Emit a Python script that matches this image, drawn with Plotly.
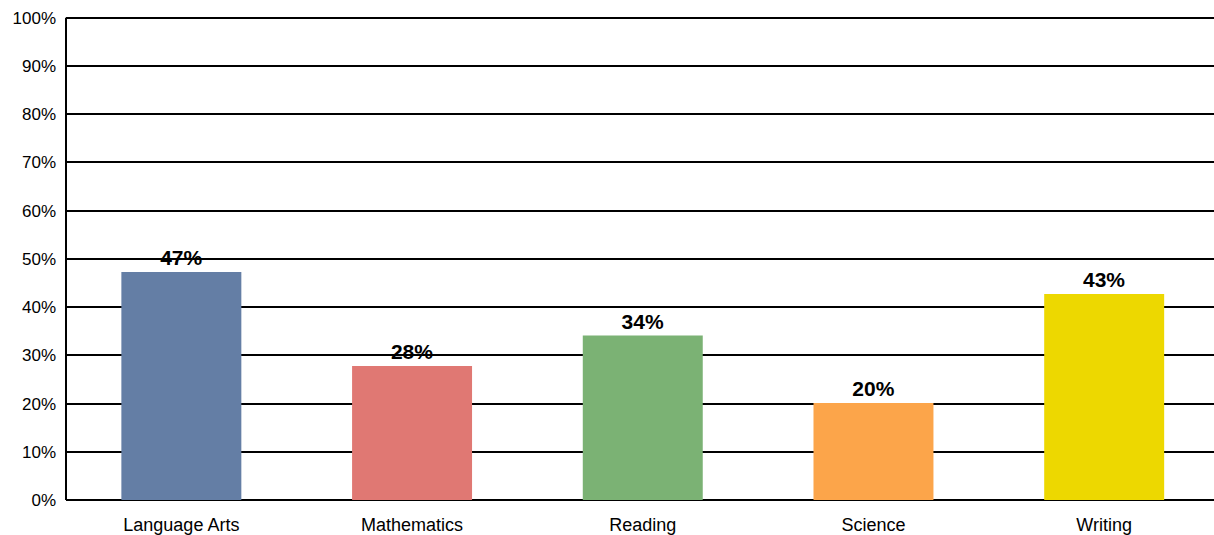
import plotly.graph_objects as go

# Share of students by subject
subjects = ["Language Arts", "Mathematics", "Reading", "Science", "Writing"]
shares = [0.473, 0.278, 0.341, 0.201, 0.427]
colors = ["#647EA5", "#E07873", "#7BB274", "#FCA54A", "#EDD800"]

tick_vals = [i / 10 for i in range(11)]
tick_text = [f"{i * 10}%" for i in range(11)]

fig = go.Figure(
    go.Bar(
        x=list(range(len(subjects))),
        y=shares,
        marker=dict(color=colors, line=dict(width=0)),
        width=0.52,
        text=[f"<b>{round(v * 100)}%</b>" for v in shares],
        textposition="outside",
        textfont=dict(family="Liberation Sans, Arial", size=21, color="black"),
        cliponaxis=False,
        hoverinfo="skip",
    )
)

# Vertical axis line running from 0% up to the 100% gridline
fig.add_shape(
    type="line", xref="paper", yref="y",
    x0=0, x1=0, y0=0, y1=tick_vals[-1],
    line=dict(color="black", width=2),
)

fig.update_layout(
    width=1214,
    height=535,
    margin=dict(l=66, r=0, t=13, b=35),
    paper_bgcolor="white",
    plot_bgcolor="white",
    showlegend=False,
    font=dict(family="Liberation Sans, Arial", size=17, color="black"),
    xaxis=dict(
        range=[-0.5, 4.476],
        tickvals=list(range(len(subjects))),
        ticktext=subjects,
        showgrid=False,
        zeroline=False,
        showline=False,
        ticks="",
        ticklabelstandoff=12,
        tickfont=dict(size=18),
        fixedrange=True,
    ),
    yaxis=dict(
        range=[0, 1.01],
        tickvals=tick_vals,
        ticktext=tick_text,
        showgrid=True,
        gridcolor="black",
        gridwidth=2,
        zeroline=True,
        zerolinecolor="black",
        zerolinewidth=2,
        showline=False,
        ticks="",
        ticklabelstandoff=9,
        tickfont=dict(size=17),
        fixedrange=True,
    ),
)

fig.write_html("out.html")
